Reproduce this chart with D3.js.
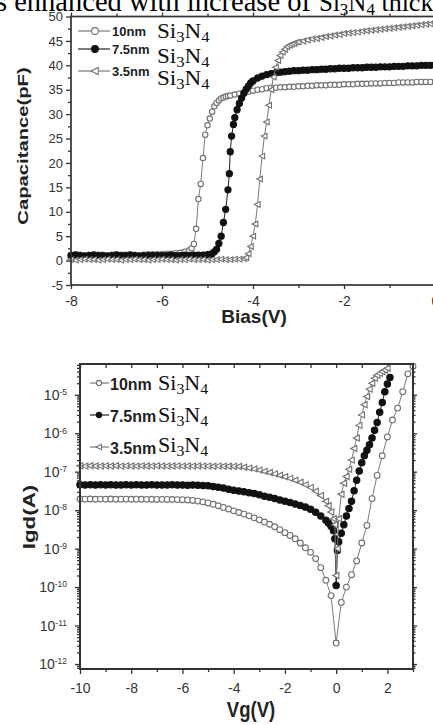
<!DOCTYPE html>
<html><head><meta charset="utf-8">
<script src="https://cdn.jsdelivr.net/npm/d3@7/dist/d3.min.js"></script>
<style>html,body{margin:0;padding:0;background:#fff;overflow:hidden}svg{display:block}</style>
</head><body>
<svg id="fig" width="433" height="725"></svg>
<script>
// ===================== DATA =====================
const seriesNames = ["10nm", "7.5nm", "3.5nm"];
const formulaParts = ["Si", "3", "N", "4"];
const titleHead = "s enhanced with increase of ";
const titleTail = " thickness";

// ---- Top panel: capacitance (pF) vs bias (V) ----
const cv10V = [-8.0,-7.9,-7.8,-7.7,-7.6,-7.5,-7.4,-7.3,-7.2,-7.1,-7.0,-6.9,-6.8,-6.7,-6.6,-6.5,-6.4,-6.3,-6.2,-6.1,-6.0,-5.9,-5.8,-5.7,-5.6,-5.5,-5.4,
  -5.35,-5.3,-5.25,-5.2,-5.15,-5.1,-5.05,-5.0,-4.95,-4.9,-4.85,-4.8,-4.75,-4.7,-4.65,-4.6,-4.55,-4.5,
  -4.4,-4.3,-4.2,-4.1,-4.0,-3.9,-3.8,-3.7,-3.6,-3.5,-3.4,-3.3,-3.2,-3.1,-3.0,-2.9,-2.8,-2.7,-2.6,-2.5,-2.4,-2.3,-2.2,-2.1,-2.0,-1.9,-1.8,-1.7,-1.6,-1.5,-1.4,-1.3,-1.2,-1.1,-1.0,-0.9,-0.8,-0.7,-0.6,-0.5,-0.4,-0.3,-0.2,-0.1,0.0];
const cv10C = [1.2,1.3,1.2,1.1,1.2,1.3,1.2,1.2,1.1,1.2,1.3,1.2,1.2,1.3,1.2,1.1,1.2,1.3,1.2,1.3,1.3,1.4,1.4,1.5,1.6,1.8,2.1,
  2.5,3.4,6.5,12.6,15.7,21.0,25.8,27.7,29.1,30.5,31.6,32.3,32.8,33.2,33.4,33.6,33.7,33.8,
  34.0,34.2,34.4,34.6,34.8,35.0,35.1,35.3,35.4,35.4,35.5,35.5,35.6,35.6,35.7,35.7,35.8,35.8,35.9,35.9,35.9,36.0,36.0,36.0,36.1,36.1,36.1,36.2,36.2,36.2,36.3,36.3,36.3,36.4,36.4,36.4,36.5,36.5,36.5,36.5,36.6,36.6,36.6,36.6,36.6];

const cv75V = [-8.0,-7.9,-7.8,-7.7,-7.6,-7.5,-7.4,-7.3,-7.2,-7.1,-7.0,-6.9,-6.8,-6.7,-6.6,-6.5,-6.4,-6.3,-6.2,-6.1,-6.0,-5.9,-5.8,-5.7,-5.6,-5.5,-5.4,-5.3,-5.2,-5.1,-5.0,
  -4.95,-4.9,-4.85,-4.8,-4.75,-4.7,-4.65,-4.6,-4.55,-4.52,-4.5,-4.47,-4.43,-4.4,-4.35,-4.3,-4.25,-4.2,-4.15,-4.1,-4.05,-4.0,
  -3.9,-3.8,-3.7,-3.6,-3.5,-3.4,-3.3,-3.2,-3.1,-3.0,-2.9,-2.8,-2.7,-2.6,-2.5,-2.4,-2.3,-2.2,-2.1,-2.0,-1.9,-1.8,-1.7,-1.6,-1.5,-1.4,-1.3,-1.2,-1.1,-1.0,-0.9,-0.8,-0.7,-0.6,-0.5,-0.4,-0.3,-0.2,-0.1,0.0];
const cv75C = [1.0,1.1,1.0,0.9,1.0,1.1,1.0,1.0,0.9,1.0,1.1,1.0,1.0,1.1,1.0,0.9,1.0,1.0,1.1,1.0,1.0,1.0,1.1,1.0,1.0,1.1,1.0,1.1,1.1,1.1,1.2,
  1.2,1.4,1.8,2.3,3.5,5.0,7.8,10.5,14.5,17.8,22.3,25.5,27.9,29.3,30.9,32.2,33.3,34.3,35.1,35.8,36.4,36.8,
  37.4,37.8,38.1,38.3,38.5,38.6,38.7,38.8,38.9,38.9,39.0,39.0,39.1,39.1,39.2,39.2,39.3,39.3,39.4,39.4,39.4,39.5,39.5,39.5,39.6,39.6,39.6,39.7,39.7,39.7,39.8,39.8,39.8,39.9,39.9,39.9,40.0,40.0,40.0,40.1];

const cv35V = [-8.0,-7.9,-7.8,-7.7,-7.6,-7.5,-7.4,-7.3,-7.2,-7.1,-7.0,-6.9,-6.8,-6.7,-6.6,-6.5,-6.4,-6.3,-6.2,-6.1,-6.0,-5.9,-5.8,-5.7,-5.6,-5.5,-5.4,-5.3,-5.2,-5.1,-5.0,-4.9,-4.8,-4.7,-4.6,-4.5,-4.4,-4.3,-4.2,
  -4.15,-4.1,-4.05,-4.0,-3.95,-3.9,-3.85,-3.8,-3.75,-3.7,-3.65,-3.6,-3.55,-3.5,-3.45,-3.4,-3.35,-3.3,-3.25,-3.2,-3.15,-3.1,-3.05,-3.0,
  -2.9,-2.8,-2.7,-2.6,-2.5,-2.4,-2.3,-2.2,-2.1,-2.0,-1.9,-1.8,-1.7,-1.6,-1.5,-1.4,-1.3,-1.2,-1.1,-1.0,-0.9,-0.8,-0.7,-0.6,-0.5,-0.4,-0.3,-0.2,-0.1,0.0];
const cv35C = [0.2,0.1,0.2,0.3,0.2,0.2,0.1,0.2,0.3,0.2,0.2,0.1,0.2,0.2,0.3,0.2,0.2,0.1,0.2,0.2,0.3,0.2,0.2,0.1,0.2,0.2,0.3,0.2,0.2,0.2,0.1,0.2,0.2,0.3,0.2,0.2,0.3,0.3,0.4,
  0.6,1.4,2.9,5.0,7.5,11.5,16.7,21.4,25.5,28.4,31.8,35.0,37.6,39.6,41.0,42.0,42.7,43.3,43.8,44.1,44.3,44.5,44.7,44.8,
  45.0,45.2,45.4,45.5,45.7,45.9,46.0,46.2,46.3,46.5,46.6,46.7,46.8,47.0,47.1,47.2,47.3,47.4,47.5,47.6,47.7,47.8,47.9,48.0,48.1,48.2,48.3,48.4,48.5,48.6];

// ---- Bottom panel: Igd (A) vs Vg (V) ----
const iv10V = [-10.0,-9.8,-9.6,-9.4,-9.2,-9.0,-8.8,-8.6,-8.4,-8.2,-8.0,-7.8,-7.6,-7.4,-7.2,-7.0,-6.8,-6.6,-6.4,-6.2,-6.0,
  -5.8,-5.6,-5.4,-5.2,-5.0,-4.8,-4.6,-4.4,-4.2,-4.0,-3.8,-3.6,-3.4,-3.2,-3.0,-2.8,-2.6,-2.4,-2.2,-2.0,
  -1.8,-1.6,-1.4,-1.2,-1.0,-0.8,-0.6,-0.4,-0.2,0.0,0.2,0.4,0.6,0.8,1.0,1.2,1.4,1.6,1.8,2.0,2.2,2.4,2.6,2.8,3.0];
const iv10I = [1.95e-8,1.93e-8,1.95e-8,1.92e-8,1.94e-8,1.93e-8,1.95e-8,1.92e-8,1.93e-8,1.94e-8,1.92e-8,1.93e-8,1.92e-8,1.91e-8,1.92e-8,1.9e-8,1.91e-8,1.9e-8,1.89e-8,1.88e-8,1.87e-8,
  1.84e-8,1.79e-8,1.72e-8,1.64e-8,1.54e-8,1.42e-8,1.3e-8,1.18e-8,1.07e-8,9.6e-9,8.7e-9,7.9e-9,7.1e-9,6.3e-9,5.6e-9,4.9e-9,4.3e-9,3.7e-9,3.1e-9,2.6e-9,
  2.2e-9,1.8e-9,1.4e-9,1.05e-9,8e-10,5.5e-10,3.2e-10,1.5e-10,6e-11,3.5e-12,4e-11,1e-10,2.1e-10,4.8e-10,1.4e-9,4e-9,2e-8,8e-8,2.6e-7,8e-7,2.2e-6,4.5e-6,1.2e-5,3.5e-5,5.5e-5];

const iv75V = [-10.0,-9.8,-9.6,-9.4,-9.2,-9.0,-8.8,-8.6,-8.4,-8.2,-8.0,-7.8,-7.6,-7.4,-7.2,-7.0,-6.8,-6.6,-6.4,-6.2,-6.0,-5.8,-5.6,-5.4,
  -5.2,-5.0,-4.8,-4.6,-4.4,-4.2,-4.0,-3.8,-3.6,-3.4,-3.2,-3.0,-2.8,-2.6,-2.4,-2.2,-2.0,-1.8,-1.6,-1.4,-1.2,-1.0,-0.8,-0.6,-0.4,
  -0.3,-0.2,-0.1,-0.05,0.0,0.05,0.1,
  0.2,0.3,0.4,0.5,0.6,0.7,0.8,0.9,1.0,1.1,1.2,1.3,1.4,1.5,1.6,1.7,1.8,1.9,2.0,2.1];
const iv75I = [4.6e-8,4.5e-8,4.55e-8,4.5e-8,4.6e-8,4.5e-8,4.55e-8,4.5e-8,4.5e-8,4.6e-8,4.5e-8,4.55e-8,4.5e-8,4.5e-8,4.55e-8,4.5e-8,4.5e-8,4.5e-8,4.55e-8,4.5e-8,4.5e-8,4.45e-8,4.5e-8,4.45e-8,
  4.4e-8,4.3e-8,4.15e-8,3.95e-8,3.75e-8,3.5e-8,3.3e-8,3.15e-8,3.0e-8,2.85e-8,2.7e-8,2.5e-8,2.3e-8,2.15e-8,2.0e-8,1.85e-8,1.7e-8,1.58e-8,1.45e-8,1.33e-8,1.2e-8,1.05e-8,8.8e-9,7e-9,5.5e-9,
  4.6e-9,3.8e-9,2.9e-9,1.8e-9,1.1e-10,9e-10,1.5e-9,
  2.5e-9,4.2e-9,7e-9,1.1e-8,1.7e-8,3.2e-8,6e-8,1.05e-7,1.7e-7,2.6e-7,3.6e-7,5e-7,7.5e-7,1.2e-6,1.9e-6,3.5e-6,6.3e-6,1.2e-5,1.9e-5,2.8e-5];

const iv35V = [-10.0,-9.8,-9.6,-9.4,-9.2,-9.0,-8.8,-8.6,-8.4,-8.2,-8.0,-7.8,-7.6,-7.4,-7.2,-7.0,-6.8,-6.6,-6.4,-6.2,-6.0,-5.8,-5.6,-5.4,-5.2,-5.0,-4.8,-4.6,-4.4,-4.2,-4.0,
  -3.8,-3.6,-3.4,-3.2,-3.0,-2.8,-2.6,-2.4,-2.2,-2.0,-1.8,-1.6,-1.4,-1.2,-1.0,-0.8,-0.6,-0.4,
  -0.3,-0.2,-0.1,-0.05,0.0,0.05,0.1,
  0.2,0.3,0.4,0.5,0.6,0.7,0.8,0.9,1.0,1.1,1.2,1.3,1.4,1.5,1.6,1.7,1.8,1.9,2.0];
const iv35I = [1.42e-7,1.4e-7,1.43e-7,1.41e-7,1.4e-7,1.42e-7,1.41e-7,1.43e-7,1.4e-7,1.42e-7,1.41e-7,1.4e-7,1.42e-7,1.41e-7,1.4e-7,1.42e-7,1.41e-7,1.4e-7,1.41e-7,1.42e-7,1.4e-7,1.41e-7,1.4e-7,1.41e-7,1.4e-7,1.4e-7,1.39e-7,1.4e-7,1.39e-7,1.39e-7,1.38e-7,
  1.36e-7,1.3e-7,1.24e-7,1.18e-7,1.1e-7,1.02e-7,9.5e-8,8.8e-8,8.1e-8,7.4e-8,6.7e-8,6e-8,5.3e-8,4.6e-8,3.9e-8,3.1e-8,2.4e-8,1.7e-8,
  1.3e-8,9e-9,6e-9,4.2e-9,2e-10,1e-9,6e-9,
  2.6e-8,5e-8,7.5e-8,1.15e-7,2e-7,4e-7,7.5e-7,1.6e-6,3e-6,5.5e-6,9e-6,1.4e-5,2e-5,2.7e-5,3.2e-5,3.6e-5,4e-5,4.4e-5,4.9e-5];

// ---- Ticks ----
const cvYTicks = [-5,0,5,10,15,20,25,30,35,40,45,50];
const cvYMinor = [-2.5,2.5,7.5,12.5,17.5,22.5,27.5,32.5,37.5,42.5,47.5];
const cvXTicks = [-8,-6,-4,-2,0];
const cvXMinor = [-7,-5,-3,-1];
const ivXTicks = [-10,-8,-6,-4,-2,0,2];
const ivXMinor = [-9,-7,-5,-3,-1,1,3];
const ivYTicks = [1e-12,1e-11,1e-10,1e-9,1e-8,1e-7,1e-6,1e-5];
const logMinorMultipliers = [2,3,4,5,6,7,8,9];

// ===================== DRAWING =====================
const SANS = "'Liberation Sans', Arial, Helvetica, sans-serif";
const SERIF = "'Liberation Serif', 'Times New Roman', serif";
const AX = "#333";
const svg = d3.select("#fig");
svg.append("rect").attr("width",433).attr("height",725).attr("fill","#fff");

const styles = {
  "10nm":  {shape:"circle", fill:"#fff", stroke:"#707070", line:"#7a7a7a"},
  "7.5nm": {shape:"circle", fill:"#111", stroke:"#111",    line:"#222"},
  "3.5nm": {shape:"tri",    fill:"#fff", stroke:"#707070", line:"#7a7a7a"}
};
function triPath(s){ return `M${-s*0.55},0L${s*0.45},${-s*0.5}L${s*0.45},${s*0.5}Z`; }

function drawSeries(g, xs, ys, V, Y, st, size){
  const pts = d3.zip(V, Y);
  g.append("path").datum(pts)
    .attr("d", d3.line().x(d=>xs(d[0])).y(d=>ys(d[1])))
    .attr("fill","none").attr("stroke",st.line).attr("stroke-width",1);
  if(st.shape==="tri"){
    g.append("g").selectAll("path").data(pts).join("path")
      .attr("d", triPath(size*2.1))
      .attr("transform", d=>`translate(${xs(d[0])},${ys(d[1])})`)
      .attr("fill",st.fill).attr("stroke",st.stroke).attr("stroke-width",1.1);
  } else {
    g.append("g").selectAll("circle").data(pts).join("circle")
      .attr("cx", d=>xs(d[0])).attr("cy", d=>ys(d[1])).attr("r", size)
      .attr("fill",st.fill).attr("stroke",st.stroke).attr("stroke-width",1.1);
  }
}
function marker(g, x, y, st, size){
  if(st.shape==="tri"){
    g.append("path").attr("d",triPath(size*2.1)).attr("transform",`translate(${x},${y})`)
      .attr("fill",st.fill).attr("stroke",st.stroke).attr("stroke-width",1.1);
  } else {
    g.append("circle").attr("cx",x).attr("cy",y).attr("r",size)
      .attr("fill",st.fill).attr("stroke",st.stroke).attr("stroke-width",1.1);
  }
}
function addFormula(g, x, y, size, sx){
  const t = g.append("text").attr("transform",`translate(${x},${y}) scale(${sx},1)`)
    .attr("font-family",SERIF).attr("font-size",size).attr("fill","#111");
  t.append("tspan").text(formulaParts[0]);
  t.append("tspan").attr("font-size",size*0.72).attr("dy",size*0.2).text(formulaParts[1]);
  t.append("tspan").attr("dy",-size*0.2).text(formulaParts[2]);
  t.append("tspan").attr("font-size",size*0.72).attr("dy",size*0.2).text(formulaParts[3]);
  return t;
}
function styleAxis(g, fs){
  g.attr("font-family",SANS).attr("font-size",fs);
  g.select(".domain").remove();
  g.selectAll("line").attr("stroke",AX).attr("stroke-width",1.3);
  g.selectAll("text").attr("fill","#333");
}

// ---- title fragment at very top (cut by the page edge, as in the reference) ----
{
  const t = svg.append("text").attr("x",-4).attr("y",10.5).attr("font-family",SERIF).attr("font-size",28.5).attr("fill","#000");
  t.append("tspan").text(titleHead);
  const f = svg.append("text").attr("x",319).attr("y",10.5).attr("font-family",SERIF).attr("font-size",25).attr("fill","#000");
  f.append("tspan").text(formulaParts[0]);
  f.append("tspan").attr("font-size",17).attr("dy",4.5).text(formulaParts[1]);
  f.append("tspan").attr("dy",-4.5).text(formulaParts[2]);
  f.append("tspan").attr("font-size",17).attr("dy",4.5).text(formulaParts[3]);
  f.append("tspan").attr("dy",-4.5).attr("font-size",26).text(titleTail);
}

// ================= TOP PANEL =================
const xTop = d3.scaleLinear().domain([-8,0]).range([71,435]);
const yTop = d3.scaleLinear().domain([-5,50]).range([285,16.5]);
const gT = svg.append("g");

gT.append("g").attr("transform",`translate(${xTop(-8)},0)`)
  .call(d3.axisLeft(yTop).tickValues(cvYTicks).tickSize(5).tickPadding(3).tickFormat(d=>String(d)))
  .call(g=>styleAxis(g,13));
gT.append("g").attr("transform",`translate(${xTop(-8)},0)`)
  .call(d3.axisLeft(yTop).tickValues(cvYMinor).tickSize(3).tickFormat(""))
  .call(g=>styleAxis(g,13));
gT.append("g").attr("transform",`translate(0,${yTop(-5)})`)
  .call(d3.axisBottom(xTop).tickValues(cvXTicks).tickSize(4).tickPadding(7).tickFormat(d=>String(d)))
  .call(g=>styleAxis(g,14));
gT.append("g").attr("transform",`translate(0,${yTop(-5)})`)
  .call(d3.axisBottom(xTop).tickValues(cvXMinor).tickSize(3).tickFormat(""))
  .call(g=>styleAxis(g,14));
gT.append("g").attr("transform",`translate(0,${yTop(50)})`)
  .call(d3.axisTop(xTop).tickValues(cvXTicks).tickSize(4).tickFormat(""))
  .call(g=>styleAxis(g,14));
gT.append("g").attr("transform",`translate(0,${yTop(50)})`)
  .call(d3.axisTop(xTop).tickValues(cvXMinor).tickSize(3).tickFormat(""))
  .call(g=>styleAxis(g,14));

const cvSets = [[cv10V,cv10C],[cv75V,cv75C],[cv35V,cv35C]];
seriesNames.forEach((n,i)=>{
  drawSeries(gT.append("g"), xTop, yTop, cvSets[i][0], cvSets[i][1], styles[n], n==="7.5nm"?3.1:2.7);
});

gT.append("rect").attr("x",xTop(-8)).attr("y",yTop(50))
  .attr("width",xTop(0)-xTop(-8)).attr("height",yTop(-5)-yTop(50))
  .attr("fill","none").attr("stroke",AX).attr("stroke-width",1.7);

// legend (top)
const legTopRows = [31,49,71];
const legTopFormulaY = [38,63,85];
seriesNames.forEach((n,i)=>{
  const y = legTopRows[i];
  gT.append("line").attr("x1",78).attr("x2",110).attr("y1",y).attr("y2",y).attr("stroke",styles[n].line).attr("stroke-width",1.2);
  marker(gT, 95, y, styles[n], 3.4);
  gT.append("text").attr("x",112).attr("y",y+4.5).attr("font-family",SANS).attr("font-weight","bold").attr("font-size",13).attr("fill","#222").text(n);
  addFormula(gT, 157, legTopFormulaY[i], 21, 1.1);
});

gT.append("text").attr("transform",`translate(28,146) rotate(-90) scale(1.35,1)`)
  .attr("text-anchor","middle").attr("font-family",SANS).attr("font-weight","bold").attr("font-size",15).attr("fill","#222")
  .text("Capacitance(pF)");
gT.append("text").attr("x",254).attr("y",323).attr("text-anchor","middle")
  .attr("font-family",SANS).attr("font-weight","bold").attr("font-size",19).attr("fill","#222").text("Bias(V)");

// ================= BOTTOM PANEL =================
const xBot = d3.scaleLinear().domain([-10,3]).range([80,413]);
const yBot = d3.scaleLog().domain([Math.pow(10,-12.13), Math.pow(10,-4.2)]).range([669,364]);
const yDom = yBot.domain();
const ivYMinor = [];
[1e-13].concat(ivYTicks, [1e-4]).forEach(d=>logMinorMultipliers.forEach(m=>{const v=m*d; if(v>yDom[0]&&v<yDom[1]) ivYMinor.push(v);}));
const gB = svg.append("g");

const ylab = gB.append("g").attr("transform",`translate(${xBot(-10)},0)`)
  .call(d3.axisLeft(yBot).tickValues(ivYTicks).tickSize(5).tickPadding(8))
  .call(g=>styleAxis(g,14));
ylab.selectAll(".tick text").each(function(d){
  const t = d3.select(this); t.text(null);
  t.append("tspan").text("10");
  t.append("tspan").attr("dy","-0.55em").attr("font-size",8.5).text(String(Math.round(Math.log10(d))));
});
gB.append("g").attr("transform",`translate(${xBot(-10)},0)`)
  .call(d3.axisLeft(yBot).tickValues(ivYMinor).tickSize(3).tickFormat(""))
  .call(g=>styleAxis(g,13));
gB.append("g").attr("transform",`translate(${xBot(3)},0)`)
  .call(d3.axisRight(yBot).tickValues(ivYTicks).tickSize(4).tickFormat(""))
  .call(g=>styleAxis(g,13));
gB.append("g").attr("transform",`translate(${xBot(3)},0)`)
  .call(d3.axisRight(yBot).tickValues(ivYMinor).tickSize(2.5).tickFormat(""))
  .call(g=>styleAxis(g,13));
gB.append("g").attr("transform",`translate(0,${yBot(yDom[0])})`)
  .call(d3.axisBottom(xBot).tickValues(ivXTicks).tickSize(5).tickPadding(9).tickFormat(d=>String(d)))
  .call(g=>styleAxis(g,14));
gB.append("g").attr("transform",`translate(0,${yBot(yDom[0])})`)
  .call(d3.axisBottom(xBot).tickValues(ivXMinor).tickSize(3).tickFormat(""))
  .call(g=>styleAxis(g,14));
gB.append("g").attr("transform",`translate(0,${yBot(yDom[1])})`)
  .call(d3.axisTop(xBot).tickValues(ivXTicks.concat(ivXMinor)).tickSize(-4).tickFormat(""))
  .call(g=>styleAxis(g,14));

const ivSets = [[iv10V,iv10I],[iv75V,iv75I],[iv35V,iv35I]];
seriesNames.forEach((n,i)=>{
  drawSeries(gB.append("g"), xBot, yBot, ivSets[i][0], ivSets[i][1], styles[n], n==="7.5nm"?3.2:2.9);
});

gB.append("rect").attr("x",xBot(-10)).attr("y",yBot(yDom[1]))
  .attr("width",xBot(3)-xBot(-10)).attr("height",yBot(yDom[0])-yBot(yDom[1]))
  .attr("fill","none").attr("stroke",AX).attr("stroke-width",2);

// legend (bottom)
const legBotRows = [383,415,447];
const legBotFormulaY = [390,422,452];
seriesNames.forEach((n,i)=>{
  const y = legBotRows[i];
  gB.append("line").attr("x1",90).attr("x2",109).attr("y1",y).attr("y2",y).attr("stroke",styles[n].line).attr("stroke-width",1.2);
  marker(gB, 99, y, styles[n], 2.6);
  gB.append("text").attr("x",110).attr("y",y+6.5).attr("font-family",SANS).attr("font-weight","bold").attr("font-size",16).attr("fill","#222").text(n);
  addFormula(gB, 158, legBotFormulaY[i], 21, 1.05);
});

gB.append("text").attr("transform",`translate(35,517) rotate(-90) scale(1.4,1)`)
  .attr("text-anchor","middle").attr("font-family",SANS).attr("font-weight","bold").attr("font-size",16).attr("fill","#222")
  .text("Igd(A)");
gB.append("text").attr("transform",`translate(251,717) scale(1,1.2)`).attr("text-anchor","middle")
  .attr("font-family",SANS).attr("font-weight","bold").attr("font-size",18.5).attr("fill","#222").text("Vg(V)");
</script>
</body></html>
